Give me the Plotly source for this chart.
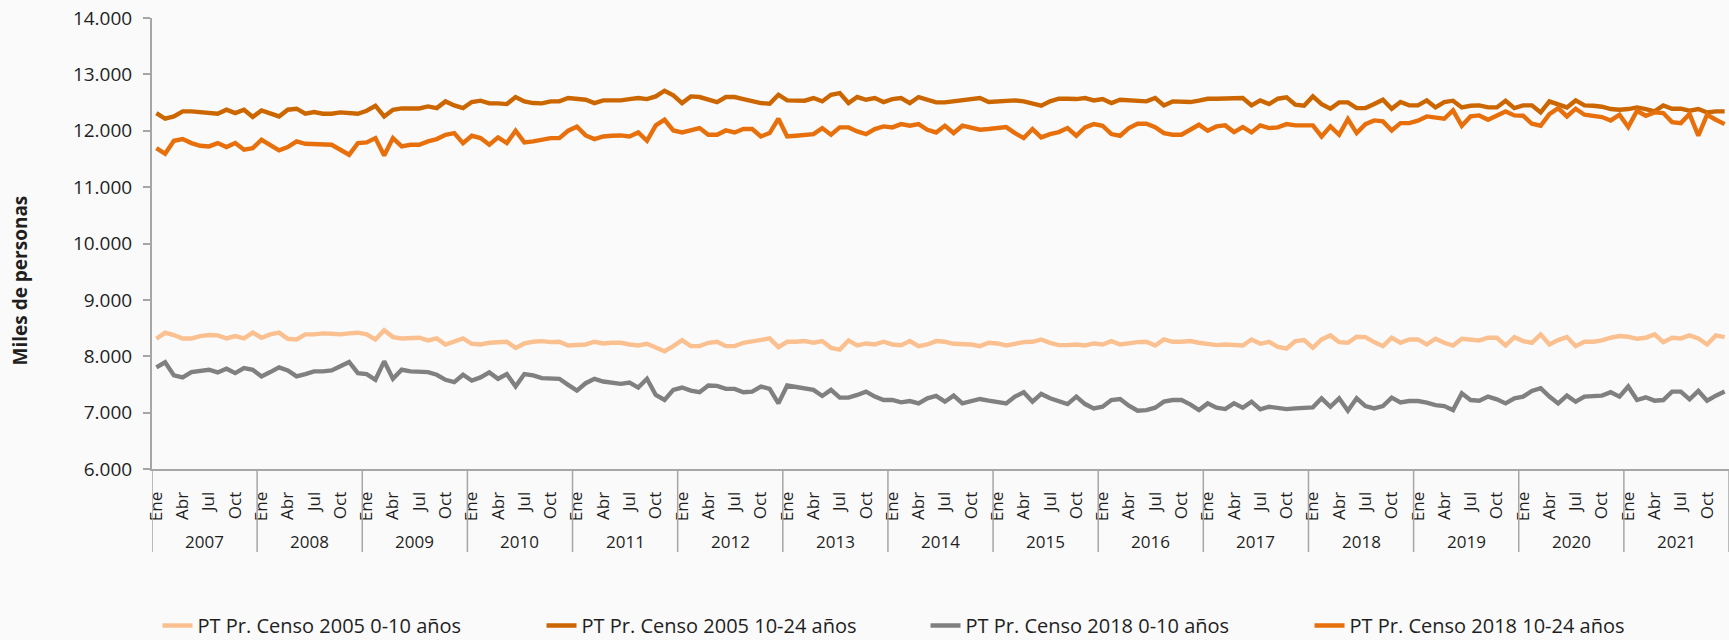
import plotly.graph_objects as go

years = ["2007", "2008", "2009", "2010", "2011", "2012", "2013", "2014",
         "2015", "2016", "2017", "2018", "2019", "2020", "2021"]
months = ["Ene", "Feb", "Mar", "Abr", "May", "Jun", "Jul", "Ago", "Sep", "Oct", "Nov", "Dic"]
shown_months = ["Ene", "Abr", "Jul", "Oct"]

series_names = ["PT Pr. Censo 2005 0-10 años", "PT Pr. Censo 2005 10-24 años",
                "PT Pr. Censo 2018 0-10 años", "PT Pr. Censo 2018 10-24 años"]

pt2005_0_10 = [
    8310, 8418, 8376, 8316, 8316, 8358, 8376, 8370, 8316, 8358, 8316, 8418,
    8328, 8388, 8418, 8310, 8298, 8388, 8388, 8406, 8400, 8388, 8406, 8418,
    8388, 8298, 8460, 8340, 8316, 8316, 8328, 8281, 8316, 8209, 8269, 8316,
    8221, 8209, 8239, 8239, 8257, 8149, 8227, 8257, 8269, 8251, 8257, 8191,
    8203, 8209, 8257, 8227, 8239, 8239, 8209, 8191, 8221, 8161, 8090, 8179,
    8287, 8179, 8179, 8239, 8257, 8179, 8179, 8239, 8269, 8287, 8316, 8161,
    8257, 8257, 8269, 8239, 8269, 8149, 8119, 8281, 8191, 8227, 8209, 8257,
    8209, 8197, 8269, 8179, 8209, 8269, 8257, 8221, 8221, 8209, 8179, 8239,
    8227, 8191, 8221, 8251, 8257, 8298, 8239, 8197, 8197, 8209, 8191, 8227,
    8209, 8269, 8209, 8239, 8251, 8257, 8191, 8298, 8257, 8257, 8269, 8239,
    8221, 8197, 8209, 8191, 8191, 8298, 8221, 8257, 8167, 8137, 8269, 8287,
    8149, 8298, 8370, 8251, 8239, 8346, 8340, 8251, 8179, 8328, 8239, 8298,
    8298, 8209, 8310, 8239, 8191, 8310, 8287, 8281, 8328, 8328, 8191, 8340,
    8269, 8239, 8388, 8209, 8287, 8340, 8179, 8257, 8257, 8281, 8328, 8358,
    8346, 8310, 8328, 8388, 8251, 8328, 8316, 8370, 8316, 8209, 8370, 8340,
]

pt2005_10_24 = [
    12314, 12213, 12254, 12343, 12343, 12331, 12314, 12302, 12373, 12314, 12373, 12243,
    12361, 12302, 12254, 12373, 12391, 12302, 12331, 12302, 12302, 12325, 12314, 12302,
    12355, 12444, 12254, 12373, 12396, 12396, 12396, 12432, 12402, 12521, 12450, 12402,
    12509, 12533, 12485, 12485, 12473, 12598, 12521, 12491, 12485, 12521, 12521, 12580,
    12568, 12550, 12491, 12538, 12538, 12538, 12562, 12580, 12562, 12609, 12710, 12627,
    12491, 12609, 12598, 12550, 12509, 12598, 12598, 12562, 12521, 12491, 12479, 12639,
    12538, 12538, 12533, 12580, 12521, 12639, 12669, 12491, 12598, 12550, 12580, 12509,
    12562, 12580, 12491, 12598, 12550, 12503, 12503, 12521, 12544, 12550, 12580, 12509,
    12521, 12533, 12538, 12521, 12479, 12444, 12521, 12568, 12568, 12562, 12580, 12538,
    12562, 12491, 12550, 12538, 12533, 12521, 12580, 12450, 12521, 12509, 12509, 12533,
    12568, 12568, 12574, 12580, 12580, 12450, 12538, 12473, 12568, 12592, 12462, 12444,
    12609, 12473, 12391, 12503, 12503, 12402, 12402, 12473, 12550, 12391, 12509, 12450,
    12450, 12538, 12414, 12509, 12533, 12414, 12444, 12450, 12414, 12414, 12533, 12402,
    12450, 12450, 12325, 12521, 12462, 12414, 12538, 12450, 12444, 12426, 12385, 12373,
    12385, 12414, 12385, 12343, 12450, 12391, 12391, 12355, 12385, 12325, 12343, 12343,
]

pt2018_0_10 = [
    7803, 7893, 7660, 7624, 7719, 7749, 7761, 7713, 7779, 7701, 7791, 7761,
    7642, 7719, 7803, 7749, 7642, 7684, 7731, 7731, 7749, 7821, 7899, 7701,
    7684, 7582, 7910, 7600, 7761, 7731, 7731, 7719, 7672, 7582, 7540, 7672,
    7570, 7624, 7713, 7600, 7684, 7463, 7684, 7660, 7612, 7612, 7600, 7493,
    7391, 7522, 7600, 7552, 7522, 7510, 7534, 7445, 7600, 7313, 7224, 7403,
    7445, 7391, 7361, 7481, 7475, 7421, 7421, 7361, 7373, 7463, 7421, 7164,
    7481, 7451, 7433, 7403, 7296, 7403, 7266, 7266, 7313, 7373, 7284, 7224,
    7224, 7182, 7206, 7164, 7254, 7296, 7194, 7301, 7164, 7206, 7242, 7212,
    7182, 7164, 7284, 7361, 7194, 7331, 7254, 7212, 7152, 7284, 7152, 7075,
    7104, 7224, 7242, 7122, 7033, 7045, 7087, 7194, 7224, 7224, 7146, 7045,
    7164, 7087, 7063, 7164, 7087, 7194, 7057, 7104, 7093, 7063, 7075, 7093,
    7093, 7254, 7104, 7254, 7033, 7254, 7116, 7075, 7116, 7266, 7182, 7206,
    7206, 7176, 7134, 7116, 7045, 7343, 7224, 7212, 7284, 7236, 7164, 7254,
    7284, 7385, 7433, 7284, 7164, 7301, 7194, 7284, 7296, 7301, 7361, 7284,
    7463, 7224, 7272, 7212, 7224, 7373, 7373, 7236, 7385, 7212, 7301, 7373,
]

pt2018_10_24 = [
    11692, 11592, 11822, 11852, 11781, 11734, 11722, 11781, 11710, 11781, 11663, 11692,
    11840, 11734, 11651, 11710, 11811, 11769, 11763, 11752, 11752, 11663, 11574, 11781,
    11793, 11870, 11562, 11870, 11722, 11752, 11752, 11811, 11852, 11929, 11959, 11781,
    11911, 11870, 11752, 11882, 11781, 12000, 11793, 11811, 11840, 11870, 11870, 12000,
    12071, 11917, 11852, 11899, 11911, 11917, 11899, 11970, 11822, 12095, 12195, 12006,
    11970, 12018, 12047, 11929, 11929, 12006, 11970, 12030, 12030, 11899, 11959, 12213,
    11899, 11911, 11929, 11941, 12047, 11929, 12059, 12059, 11988, 11941, 12030, 12077,
    12059, 12118, 12089, 12118, 12018, 11970, 12089, 11959, 12089, 12047, 12018, 12030,
    12047, 12065, 11959, 11870, 12030, 11882, 11941, 11976, 12047, 11911, 12059, 12118,
    12089, 11941, 11911, 12047, 12124, 12124, 12065, 11959, 11929, 11929, 12018, 12107,
    12000, 12077, 12095, 11976, 12065, 11970, 12095, 12047, 12059, 12118, 12095, 12089,
    12095, 11899, 12077, 11929, 12207, 11959, 12118, 12183, 12166, 12006, 12136, 12136,
    12178, 12254, 12243, 12213, 12361, 12089, 12254, 12272, 12195, 12266, 12343, 12272,
    12266, 12124, 12089, 12296, 12402, 12254, 12391, 12284, 12266, 12243, 12183, 12284,
    12065, 12355, 12266, 12325, 12314, 12154, 12136, 12296, 11911, 12284, 12195, 12118,
]

colors = ["#FAC090", "#CC6600", "#808080", "#E8700C"]
series_values = [pt2005_0_10, pt2005_10_24, pt2018_0_10, pt2018_10_24]

categories = [f"{m} {y}" for y in years for m in months]

TEXT = "#1f1f1f"
AXIS = "#A6A6A6"
BG = "#FAFAFA"

fig = go.Figure()
for name, vals, col in zip(series_names, series_values, colors):
    fig.add_trace(go.Scatter(x=categories, y=vals, mode="lines", name=name,
                             line=dict(color=col, width=4.4)))

tickvals = [c for c in categories if c.split(" ")[0] in shown_months]
ticktext = [c.split(" ")[0] for c in tickvals]

n_months = len(months)
shapes = []
for k in range(len(years) + 1):
    xb = k * n_months - 0.5
    shapes.append(dict(type="line", xref="x", yref="paper", x0=xb, x1=xb,
                       y0=0, y1=-0.184, line=dict(color=AXIS, width=1.5)))

annotations = []
for k, yr in enumerate(years):
    annotations.append(dict(x=k * n_months + (n_months - 1) / 2, xref="x",
                            y=-0.16, yref="paper", text=yr, showarrow=False,
                            xanchor="center", yanchor="middle",
                            font=dict(family="Open Sans", size=17, color=TEXT)))
annotations.append(dict(x=(20 - 152) / 1577, xref="paper", y=0.418, yref="paper",
                        text="<b>Miles de personas</b>", textangle=-90,
                        showarrow=False, xanchor="center", yanchor="middle",
                        font=dict(family="Open Sans", size=19, color=TEXT)))

fig.update_layout(
    width=1729, height=640,
    margin=dict(l=152, r=0, t=18, b=171, autoexpand=False),
    paper_bgcolor=BG, plot_bgcolor=BG,
    separators=",.",
    showlegend=True,
    legend=dict(orientation="h", xref="container", yref="paper",
                x=0.0911, y=-0.347, xanchor="left", yanchor="middle",
                entrywidth=339, entrywidthmode="pixels",
                font=dict(family="Open Sans", size=20, color=TEXT),
                bgcolor="rgba(0,0,0,0)"),
    xaxis=dict(type="category", range=[-0.5, len(categories) - 0.5],
               automargin=False,
               tickmode="array", tickvals=tickvals, ticktext=ticktext,
               tickangle=-90, ticks="", showgrid=False, zeroline=False,
               showline=True, linecolor=AXIS, linewidth=2,
               ticklabelstandoff=14,
               tickfont=dict(family="Open Sans", size=17, color=TEXT)),
    yaxis=dict(range=[6000, 14000], dtick=1000, tick0=6000, tickformat=",d",
               automargin=False,
               ticks="outside", ticklen=7, tickcolor=AXIS, tickwidth=1.5,
               showline=True, linecolor=AXIS, linewidth=2, showgrid=False,
               zeroline=False, ticklabelstandoff=7,
               tickfont=dict(family="Open Sans", size=19, color=TEXT)),
    shapes=shapes,
    annotations=annotations,
)

fig.write_html("out.html",
               config={"displayModeBar": False},
               post_script="document.body.style.margin='0';"
                           "document.body.style.background='#FAFAFA';"
                           "document.body.style.overflow='hidden';")
